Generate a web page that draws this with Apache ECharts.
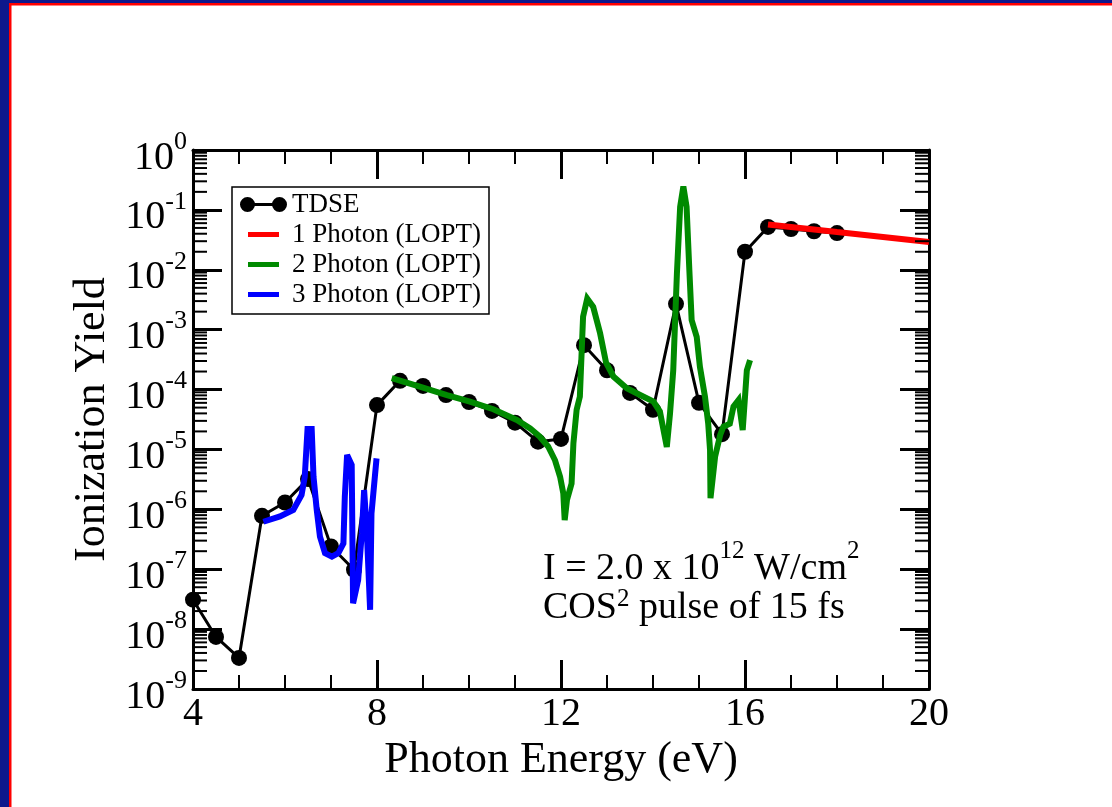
<!DOCTYPE html>
<html>
<head>
<meta charset="utf-8">
<script src="https://cdn.jsdelivr.net/npm/echarts@6/dist/echarts.min.js"></script>
<style>
html,body{margin:0;padding:0;background:#fff;}
#chart{width:1112px;height:807px;}
</style>
</head>
<body>
<div id="chart"></div>
<script>
// ---- Data ----
var tdseEnergy = [4.0,4.5,5.0,5.5,6.0,6.5,7.0,7.5,8.0,8.5,9.0,9.5,10.0,10.5,11.0,11.5,12.0,12.5,13.0,13.5,14.0,14.5,15.0,15.5,16.0,16.5,17.0,17.5,18.0];
var tdseYield = [3.1e-8,7.4e-9,3.3e-9,7.8e-7,1.3e-6,3.2e-6,2.4e-7,9.8e-8,5.5e-5,1.4e-4,1.15e-4,8.1e-5,6.2e-5,4.4e-5,2.8e-5,1.35e-5,1.5e-5,5.5e-4,2.1e-4,8.8e-5,4.6e-5,2.7e-3,6.0e-5,1.8e-5,2.0e-2,5.2e-2,4.8e-2,4.4e-2,4.1e-2];

var onePhotonEnergy = [16.5,17.0,18.0,19.0,20.0];
var onePhotonYield = [5.7e-2,5.2e-2,4.28e-2,3.53e-2,2.91e-2];

var twoPhotonEnergy = [8.32,8.93,9.52,10.02,10.53,11.04,11.33,11.54,11.72,11.87,11.98,12.05,12.08,12.13,12.23,12.27,12.34,12.41,12.48,12.57,12.70,12.85,12.98,13.14,13.43,13.72,14.01,14.15,14.30,14.37,14.44,14.52,14.59,14.66,14.73,14.79,14.84,14.95,15.02,15.13,15.20,15.24,15.25,15.35,15.46,15.53,15.67,15.75,15.86,15.95,16.04,16.11];
var twoPhotonYield = [1.55e-4,1.12e-4,8.1e-5,6.3e-5,4.7e-5,3.1e-5,2.25e-5,1.63e-5,1.12e-5,6.6e-6,3.5e-6,1.85e-6,6.6e-7,1.44e-6,2.7e-6,1.27e-5,4.6e-5,7.6e-5,1.65e-3,3.3e-3,2.4e-3,8.7e-4,2.8e-4,1.65e-4,1.05e-4,8.1e-5,6.3e-5,4.3e-5,1.1e-5,4.0e-5,2.1e-4,8.7e-3,1.13e-1,2.45e-1,1.13e-1,1.0e-2,1.45e-3,7.6e-4,2.4e-4,7.6e-5,2.7e-5,9.8e-6,1.54e-6,7.6e-6,1.74e-5,2.4e-5,2.7e-5,5.2e-5,6.7e-5,2.1e-5,2.1e-4,3.1e-4];

var threePhotonEnergy = [5.53,5.89,6.18,6.36,6.43,6.49,6.58,6.62,6.69,6.76,6.87,7.02,7.16,7.27,7.30,7.35,7.45,7.48,7.59,7.67,7.72,7.78,7.85,7.88,7.99];
var threePhotonYield = [6.2e-7,7.6e-7,9.8e-7,1.74e-6,3.5e-6,2.2e-5,2.2e-5,3.5e-6,9.8e-7,3.5e-7,1.86e-7,1.62e-7,1.86e-7,2.7e-7,1.6e-6,8.1e-6,5.5e-6,2.7e-8,6.6e-8,4.0e-7,2.1e-6,4.0e-7,2.1e-8,8.5e-7,7.1e-6];

var xTicks = [4, 8, 12, 16, 20];
var yDecadeExponents = [-9,-8,-7,-6,-5,-4,-3,-2,-1,0];
var minorMultipliers = [2,3,4,5,6,7,8,9];

var seriesNames = ['TDSE','1 Photon (LOPT)','2 Photon (LOPT)','3 Photon (LOPT)'];
var annotationLine1 = ['I = 2.0 x 10','12',' W/cm','2'];
var annotationLine2 = ['COS','2',' pulse of 15 fs'];

// ---- helpers ----
function pairs(xs, ys){ var out=[]; for (var i=0;i<xs.length;i++) out.push([xs[i], ys[i]]); return out; }
var xMin = xTicks[0], xMax = xTicks[xTicks.length-1];
var yMin = Math.pow(10, yDecadeExponents[0]), yMax = Math.pow(10, yDecadeExponents[yDecadeExponents.length-1]);
var minorData = [];
for (var d=0; d<yDecadeExponents.length-1; d++){
  for (var m=0; m<minorMultipliers.length; m++){
    minorData.push([xMin, minorMultipliers[m]*Math.pow(10, yDecadeExponents[d])]);
  }
}

var FONT = 'Liberation Serif';
var tdseIcon = 'path://M0,7.5 A7.5,7.5 0 1 1 15,7.5 A7.5,7.5 0 1 1 0,7.5 Z M32,7.5 A7.5,7.5 0 1 1 47,7.5 A7.5,7.5 0 1 1 32,7.5 Z M14,6 L33,6 L33,9 L14,9 Z';
var lineIcon = 'path://M0,0 L0.01,0 L0,0.01 Z M8,5 L39,5 L39,10 L8,10 Z M47,15 L46.99,15 L47,14.99 Z';

var chart = echarts.init(document.getElementById('chart'), null, {renderer:'canvas'});

var axisLineStyle = {color:'#000', width:3};
var xAxisCommon = {
  type:'value', min:xMin, max:xMax, interval:4,
  axisLine:{show:true, onZero:false, lineStyle:axisLineStyle},
  axisTick:{show:true, inside:true, length:29, lineStyle:{color:'#000', width:3}},
  minorTick:{show:true, splitNumber:4, length:14, lineStyle:{color:'#000', width:2}},
  splitLine:{show:false}, minorSplitLine:{show:false}
};
var yAxisCommon = {
  type:'log', logBase:10, min:yMin, max:yMax, splitNumber:9,
  axisLine:{show:true, onZero:false, lineStyle:axisLineStyle},
  axisTick:{show:true, inside:true, length:29, lineStyle:{color:'#000', width:3}},
  minorTick:{show:false},
  splitLine:{show:false}
};

var annRich1 = {
  a:{fontFamily:FONT, fontSize:38, height:38, lineHeight:49, verticalAlign:'bottom', fill:'#000'},
  s:{fontFamily:FONT, fontSize:25, height:25, lineHeight:25, verticalAlign:'top', fill:'#000'}
};
var annRich2 = {
  a:{fontFamily:FONT, fontSize:38, height:38, lineHeight:49, verticalAlign:'bottom', fill:'#000'},
  s:{fontFamily:FONT, fontSize:25, height:42, lineHeight:42, verticalAlign:'top', fill:'#000'}
};

var option = {
  backgroundColor:'#ffffff',
  animation:false,
  grid:{left:193, top:150, width:736, height:539, containLabel:false},
  xAxis:[
    Object.assign({}, xAxisCommon, {
      position:'bottom',
      name:'Photon Energy (eV)', nameLocation:'middle', nameGap:31,
      nameTextStyle:{fontFamily:FONT, fontSize:44, color:'#000'},
      axisLabel:{show:true, margin:5, fontFamily:FONT, fontSize:40, color:'#000'}
    }),
    Object.assign({}, xAxisCommon, {position:'top', axisLabel:{show:false}})
  ],
  yAxis:[
    Object.assign({}, yAxisCommon, {
      position:'left',
      name:'Ionization Yield', nameLocation:'middle', nameGap:66,
      nameTextStyle:{fontFamily:FONT, fontSize:44, color:'#000'},
      axisLabel:{show:true, margin:6,
        formatter:function(v){ var e=Math.round(Math.log(v)/Math.LN10); return '{b|10}{e|'+e+'}'; },
        rich:{
          b:{fontFamily:FONT, fontSize:40, height:40, lineHeight:56, color:'#000', verticalAlign:'bottom'},
          e:{fontFamily:FONT, fontSize:26, height:40, lineHeight:40, color:'#000', verticalAlign:'top'}
        }
      }
    }),
    Object.assign({}, yAxisCommon, {position:'right', axisLabel:{show:false}})
  ],
  legend:{
    orient:'vertical', left:232, top:187, padding:[4,8,6,8], itemGap:3,
    itemWidth:47, itemHeight:15, selectedMode:false,
    backgroundColor:'#fff', borderColor:'#000', borderWidth:1.5, borderRadius:0,
    textStyle:{fontFamily:FONT, fontSize:27, color:'#000'},
    itemStyle:{borderWidth:0},
    data:[
      {name:seriesNames[0], icon:tdseIcon},
      {name:seriesNames[1], icon:lineIcon},
      {name:seriesNames[2], icon:lineIcon},
      {name:seriesNames[3], icon:lineIcon}
    ],
    z:10
  },
  graphic:[
    {type:'rect', shape:{x:0,y:0,width:9,height:807}, style:{fill:'#0e188c'}, silent:true},
    {type:'rect', shape:{x:0,y:0,width:1112,height:3}, style:{fill:'#0e188c'}, silent:true},
    {type:'rect', shape:{x:9,y:3,width:2.5,height:804}, style:{fill:'#ff0000'}, silent:true},
    {type:'rect', shape:{x:9,y:3,width:1103,height:2.5}, style:{fill:'#ff0000'}, silent:true},
    {type:'text', left:543, top:539, silent:true, style:{
      text:'{a|'+annotationLine1[0]+'}{s|'+annotationLine1[1]+'}{a|'+annotationLine1[2]+'}{s|'+annotationLine1[3]+'}',
      rich:annRich1
    }},
    {type:'text', left:543, top:578, silent:true, style:{
      text:'{a|'+annotationLine2[0]+'}{s|'+annotationLine2[1]+'}{a|'+annotationLine2[2]+'}',
      rich:annRich2
    }}
  ],
  series:[
    {name:seriesNames[0], type:'line', data:pairs(tdseEnergy, tdseYield),
     symbol:'circle', symbolSize:16, showSymbol:true, color:'#000',
     itemStyle:{color:'#000', borderWidth:0},
     lineStyle:{color:'#000', width:3}, z:2, silent:true},
    {name:seriesNames[1], type:'line', data:pairs(onePhotonEnergy, onePhotonYield),
     symbol:'none', color:'#ff0000', lineStyle:{color:'#ff0000', width:6}, z:3, silent:true},
    {name:seriesNames[2], type:'line', data:pairs(twoPhotonEnergy, twoPhotonYield),
     symbol:'none', color:'#008a00', lineStyle:{color:'#008a00', width:6, join:'miter', miterLimit:4}, z:3, silent:true},
    {name:seriesNames[3], type:'line', data:pairs(threePhotonEnergy, threePhotonYield),
     symbol:'none', color:'#0000ff', lineStyle:{color:'#0000ff', width:6, join:'miter', miterLimit:4}, z:3, silent:true},
    {name:'yMinorTicks', type:'custom', data:minorData, silent:true, z:4, clip:false,
     encode:{x:0, y:1},
     renderItem:function(params, api){
       var v = api.value(1);
       var pL = api.coord([xMin, v]);
       var pR = api.coord([xMax, v]);
       return {type:'group', children:[
         {type:'line', shape:{x1:pL[0], y1:pL[1], x2:pL[0]+14, y2:pL[1]}, style:{stroke:'#000', lineWidth:2}},
         {type:'line', shape:{x1:pR[0]-14, y1:pR[1], x2:pR[0], y2:pR[1]}, style:{stroke:'#000', lineWidth:2}}
       ]};
     }}
  ]
};
chart.setOption(option);
</script>
</body>
</html>
